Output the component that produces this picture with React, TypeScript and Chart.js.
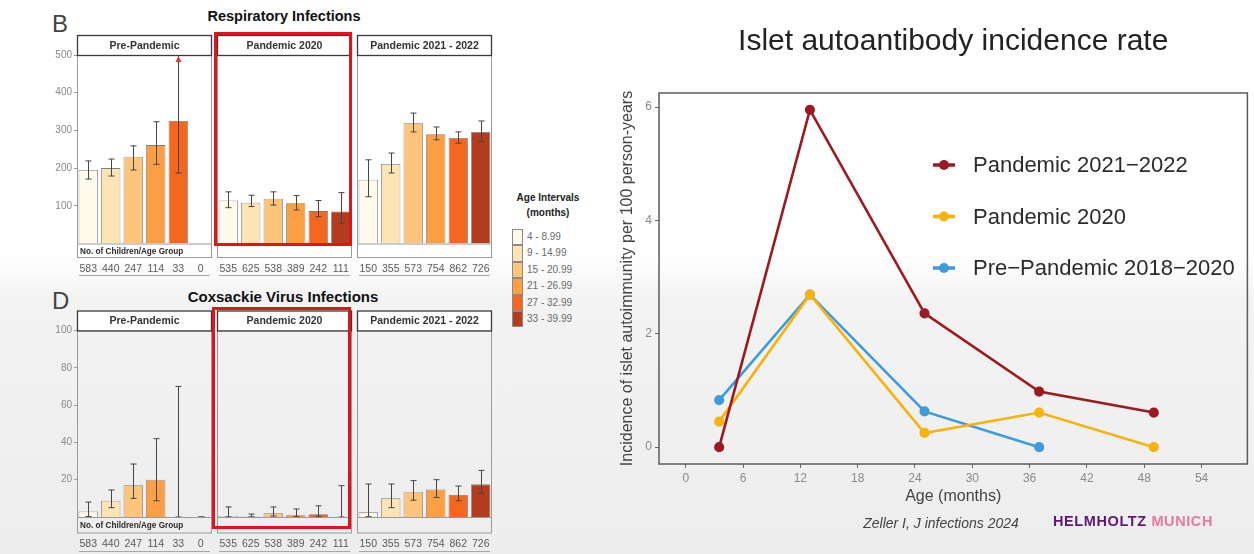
import React, { useEffect, useRef } from "react";
import { Chart, registerables } from "chart.js";

Chart.register(...registerables);

const FONT = '"Liberation Sans", Arial, Helvetica, sans-serif';

// ---------- Left figure: infections by age interval ----------
const AGE_INTERVALS = ["4 - 8.99", "9 - 14.99", "15 - 20.99", "21 - 26.99", "27 - 32.99", "33 - 39.99"];
const AGE_COLORS = ["#fffaec", "#fde4b5", "#fdc47c", "#fb9f45", "#f3671f", "#b43c1e"];
const PERIODS = ["Pre-Pandemic", "Pandemic 2020", "Pandemic 2021 - 2022"];
const CHILDREN_PRE = ["583", "440", "247", "114", "33", "0"];
const CHILDREN_2020 = ["535", "625", "538", "389", "242", "111"];
const CHILDREN_2122 = ["150", "355", "573", "754", "862", "726"];

const RESP_TICKS = [100, 200, 300, 400, 500];
const RESP_PRE = [195, 200, 230, 261, 325, 0];
const RESP_PRE_LOW = [171, 179, 195, 210, 187, null];
const RESP_PRE_HIGH = [219, 224, 259, 323, 560, null];
const RESP_2020 = [114, 108, 119, 107, 86, 85];
const RESP_2020_LOW = [95, 98, 102, 89, 71, 54];
const RESP_2020_HIGH = [137, 128, 137, 127, 114, 135];
const RESP_2122 = [169, 211, 319, 290, 280, 296];
const RESP_2122_LOW = [124, 187, 296, 275, 266, 270];
const RESP_2122_HIGH = [222, 240, 346, 309, 296, 325];

const COX_TICKS = [20, 40, 60, 80, 100];
const COX_PRE = [3, 8.7, 17, 20, 0, 0];
const COX_PRE_LOW = [0.3, 5, 10, 8.7, 0, 0];
const COX_PRE_HIGH = [8, 14.5, 28.4, 42, 70, 0];
const COX_2020 = [0.5, 0.3, 2, 1, 1.5, 0];
const COX_2020_LOW = [0.1, 0.1, 0.5, 0.2, 0.3, 0];
const COX_2020_HIGH = [5.4, 1.6, 5.4, 4.3, 6, 16.8];
const COX_2122 = [2.5, 10, 13.6, 14.8, 11.8, 17.5];
const COX_2122_LOW = [0.2, 5, 9, 10.5, 8.7, 12.7];
const COX_2122_HIGH = [17.7, 17.7, 19.5, 20, 16.6, 25];

// ---------- Right figure: islet autoantibody incidence ----------
const CHART_TITLE = "Islet autoantibody incidence rate";
const X_TITLE = "Age (months)";
const Y_TITLE = "Incidence of islet autoimmunity per 100 person-years";
const AGE_MONTHS = [3.5, 13, 25, 37, 49];
const RATE_2122 = [0, 5.95, 2.36, 0.98, 0.61];
const RATE_2020 = [0.45, 2.69, 0.25, 0.61, 0];
const RATE_PRE = [0.83, 2.69, 0.63, 0];
const SERIES_NAMES = ["Pandemic 2021\u22122022", "Pandemic 2020", "Pre\u2212Pandemic 2018\u22122020"];
const SERIES_COLORS = ["#9c1a22", "#f7b30c", "#3f9bdb"];
const X_TICKS = [0, 6, 12, 18, 24, 30, 36, 42, 48, 54];
const Y_TICKS = [0, 2, 4, 6];

// layout constants for the facet rows
const PANEL_W = 135;
const PANEL_LEFTS = [77, 217, 357];
const Y_AXIS_W = 28;
const ROW_TOP = { canvasTop: 33, canvasBottom: 280, panelTop: 55, zeroY: 243.5, rowH: 14, countsPad: 19, underline: 31.5, max: 500 };
const ROW_BOTTOM = { canvasTop: 309, canvasBottom: 554, panelTop: 330.5, zeroY: 517, rowH: 16, countsPad: 20.5, underline: 34, max: 100 };

type Row = typeof ROW_TOP;

type FacetProps = {
  row: Row;
  col: number;
  title: string;
  values: number[];
  low: (number | null)[];
  high: (number | null)[];
  counts: string[];
  ticks: number[];
  note: boolean;
  white: boolean;
};

function Facet(p: FacetProps) {
  const ref = useRef<HTMLCanvasElement | null>(null);
  const showY = p.col === 0;
  const panelLeft = PANEL_LEFTS[p.col];
  const left = panelLeft - (showY ? Y_AXIS_W : 1);
  const width = panelLeft - left + PANEL_W + 1;
  const top = p.row.canvasTop;
  const height = p.row.canvasBottom - p.row.canvasTop;

  useEffect(() => {
    const row = p.row;
    const decor = {
      id: "facetDecor",
      beforeDatasetsDraw(chart: any) {
        const { ctx, chartArea: a } = chart;
        ctx.save();
        if (p.white) {
          ctx.fillStyle = "#ffffff";
          ctx.fillRect(a.left, a.top, a.right - a.left, a.bottom - a.top + row.rowH);
        }
        ctx.restore();
      },
      afterDatasetsDraw(chart: any) {
        const { ctx, chartArea: a } = chart;
        const ys = chart.scales.y;
        const meta = chart.getDatasetMeta(0);
        ctx.save();
        ctx.strokeStyle = "#454545";
        ctx.lineWidth = 1;
        meta.data.forEach((bar: any, i: number) => {
          const lo = p.low[i];
          const hi = p.high[i];
          if (lo == null || hi == null) return;
          const x = Math.round(bar.x) + 0.5;
          const yLo = ys.getPixelForValue(lo);
          const yHiRaw = ys.getPixelForValue(hi);
          const clipped = yHiRaw < a.top;
          const yHi = clipped ? a.top : yHiRaw;
          ctx.beginPath();
          ctx.moveTo(x, yLo);
          ctx.lineTo(x, yHi);
          ctx.moveTo(x - 3, yLo);
          ctx.lineTo(x + 3, yLo);
          if (!clipped) {
            ctx.moveTo(x - 3, yHi);
            ctx.lineTo(x + 3, yHi);
          }
          ctx.stroke();
          if (clipped) {
            ctx.fillStyle = "#e0393a";
            ctx.beginPath();
            ctx.moveTo(x, a.top + 1);
            ctx.lineTo(x - 3, a.top + 7);
            ctx.lineTo(x + 3, a.top + 7);
            ctx.closePath();
            ctx.fill();
          }
        });
        ctx.restore();
      },
      afterDraw(chart: any) {
        const { ctx, chartArea: a } = chart;
        const w = a.right - a.left;
        ctx.save();
        // panel border including the children-count row
        ctx.strokeStyle = "#9a9a9a";
        ctx.lineWidth = 1;
        ctx.strokeRect(a.left + 0.5, a.top, w - 1, a.bottom - a.top + row.rowH);
        ctx.beginPath();
        ctx.moveTo(a.left, a.bottom + 0.5);
        ctx.lineTo(a.right, a.bottom + 0.5);
        ctx.stroke();
        // strip header
        const sh = 20;
        ctx.fillStyle = "#ffffff";
        ctx.fillRect(a.left, a.top - sh, w, sh);
        ctx.strokeStyle = "#3a3a3a";
        ctx.lineWidth = 1.3;
        ctx.strokeRect(a.left + 0.5, a.top - sh + 0.5, w - 1, sh);
        ctx.fillStyle = "#333333";
        ctx.font = `bold 10.5px ${FONT}`;
        ctx.textAlign = "center";
        ctx.textBaseline = "middle";
        ctx.fillText(p.title, (a.left + a.right) / 2, a.top - sh / 2 + 1);
        // row note
        if (p.note) {
          ctx.font = `bold 8.2px ${FONT}`;
          ctx.textAlign = "left";
          ctx.fillStyle = "#2a2a2a";
          ctx.fillText("No. of Children/Age Group", a.left + 3, a.bottom + row.rowH / 2 + 1);
        }
        // underline below counts
        ctx.strokeStyle = "#a8a8a8";
        ctx.lineWidth = 1;
        ctx.beginPath();
        ctx.moveTo(a.left + 2, a.bottom + row.underline + 0.5);
        ctx.lineTo(a.right - 2, a.bottom + row.underline + 0.5);
        ctx.stroke();
        ctx.restore();
      },
    };

    const chart = new Chart(ref.current as HTMLCanvasElement, {
      type: "bar",
      data: {
        labels: AGE_INTERVALS,
        datasets: [
          {
            data: p.values,
            backgroundColor: AGE_COLORS,
            borderColor: "#7c7c7c",
            borderWidth: 0.8,
            barPercentage: 0.86,
            categoryPercentage: 1,
          },
        ],
      },
      options: {
        animation: false,
        responsive: false,
        events: [],
        layout: { padding: { left: showY ? 0 : 1, right: 1, top: row.panelTop - row.canvasTop, bottom: 0 } },
        plugins: { legend: { display: false }, tooltip: { enabled: false }, title: { display: false } },
        scales: {
          x: {
            type: "category",
            offset: true,
            grid: {
              display: true,
              drawOnChartArea: false,
              drawTicks: true,
              tickLength: row.countsPad,
              color: "rgba(0,0,0,0)",
            },
            border: { display: false },
            ticks: {
              autoSkip: false,
              maxRotation: 0,
              padding: 0,
              color: "#5a5a5a",
              font: { family: FONT, size: 10.5 },
              callback: (_v: any, i: number) => p.counts[i],
            },
            afterFit: (s: any) => {
              s.height = row.canvasBottom - row.zeroY;
              s.paddingLeft = 0;
              s.paddingRight = 0;
            },
          },
          y: {
            display: showY,
            min: 0,
            max: row.max,
            afterBuildTicks: (s: any) => {
              s.ticks = p.ticks.map((v) => ({ value: v }));
            },
            afterFit: (s: any) => {
              if (showY) s.width = Y_AXIS_W;
            },
            grid: { display: true, drawOnChartArea: false, drawTicks: true, tickLength: 3, color: "#9a9a9a" },
            border: { display: false },
            ticks: { color: "#8a8a8a", padding: 2, font: { family: FONT, size: 10 } },
          },
        },
      },
      plugins: [decor],
    } as any);
    return () => chart.destroy();
  }, []);

  return (
    <canvas
      ref={ref}
      width={width}
      height={height}
      style={{ position: "absolute", left, top, width, height }}
    />
  );
}

function IncidenceChart() {
  const ref = useRef<HTMLCanvasElement | null>(null);
  useEffect(() => {
    const boxPlugin = {
      id: "panelBox",
      beforeDatasetsDraw(chart: any) {
        const { ctx, chartArea: a } = chart;
        ctx.save();
        ctx.strokeStyle = "#5c5c5c";
        ctx.lineWidth = 1.5;
        ctx.strokeRect(a.left, a.top, a.right - a.left, a.bottom - a.top);
        ctx.restore();
      },
    };
    const legendPlugin = {
      id: "insideLegend",
      afterDraw(chart: any) {
        const { ctx } = chart;
        ctx.save();
        chart.data.datasets.forEach((ds: any, i: number) => {
          const y = 165 + i * 51.5;
          ctx.strokeStyle = ds.borderColor;
          ctx.fillStyle = ds.borderColor;
          ctx.lineWidth = 3.5;
          ctx.beginPath();
          ctx.moveTo(333, y);
          ctx.lineTo(355, y);
          ctx.stroke();
          ctx.beginPath();
          ctx.arc(344, y, 5, 0, Math.PI * 2);
          ctx.fill();
          ctx.fillStyle = "#2b2b2b";
          ctx.font = `22px ${FONT}`;
          ctx.textAlign = "left";
          ctx.textBaseline = "middle";
          ctx.fillText(ds.label, 373, y + 1);
        });
        ctx.restore();
      },
    };
    const series = [RATE_2122, RATE_2020, RATE_PRE];
    const chart = new Chart(ref.current as HTMLCanvasElement, {
      type: "line",
      data: {
        datasets: series.map((vals, k) => ({
          label: SERIES_NAMES[k],
          data: vals.map((v, i) => ({ x: AGE_MONTHS[i], y: v })),
          borderColor: SERIES_COLORS[k],
          backgroundColor: SERIES_COLORS[k],
          pointBackgroundColor: SERIES_COLORS[k],
          pointBorderColor: SERIES_COLORS[k],
          pointRadius: 3.8,
          borderWidth: 2.6,
          tension: 0,
        })),
      },
      options: {
        animation: false,
        responsive: false,
        events: [],
        layout: { padding: { left: 0, right: 2, top: 0, bottom: 48 } },
        plugins: {
          legend: { display: false },
          tooltip: { enabled: false },
          title: {
            display: true,
            text: CHART_TITLE,
            fullSize: false,
            color: "#222222",
            font: { family: FONT, size: 30, weight: "normal" },
            padding: { top: 24, bottom: 33 },
          },
        },
        scales: {
          x: {
            type: "linear",
            min: -2.8,
            max: 58.8,
            afterBuildTicks: (s: any) => {
              s.ticks = X_TICKS.map((v) => ({ value: v }));
            },
            afterFit: (s: any) => {
              s.height = 42;
            },
            grid: { display: true, drawOnChartArea: false, drawTicks: true, tickLength: 4, color: "#666666" },
            border: { display: false },
            ticks: { color: "#8a8a8a", padding: 3, font: { family: FONT, size: 12 } },
            title: {
              display: true,
              text: X_TITLE,
              color: "#444444",
              font: { family: FONT, size: 16 },
              padding: { top: 0, bottom: 0 },
            },
          },
          y: {
            type: "linear",
            min: -0.2975,
            max: 6.2475,
            afterBuildTicks: (s: any) => {
              s.ticks = Y_TICKS.map((v) => ({ value: v }));
            },
            afterFit: (s: any) => {
              s.width = 59;
            },
            grid: { display: true, drawOnChartArea: false, drawTicks: true, tickLength: 4, color: "#666666" },
            border: { display: false },
            ticks: { color: "#8a8a8a", padding: 3, font: { family: FONT, size: 12 } },
            title: {
              display: true,
              text: Y_TITLE,
              color: "#444444",
              font: { family: FONT, size: 16 },
              padding: { top: 18, bottom: 0 },
            },
          },
        },
      },
      plugins: [boxPlugin, legendPlugin],
    } as any);
    return () => chart.destroy();
  }, []);
  return (
    <canvas
      ref={ref}
      width={654}
      height={554}
      style={{ position: "absolute", left: 600, top: 0, width: 654, height: 554 }}
    />
  );
}

function Txt(props: {
  x: number;
  y: number;
  size: number;
  color?: string;
  weight?: string;
  italic?: boolean;
  align?: "left" | "center" | "right";
  children: React.ReactNode;
}) {
  const tx = props.align === "center" ? "-50%" : props.align === "right" ? "-100%" : "0";
  return (
    <div
      style={{
        position: "absolute",
        left: props.x,
        top: props.y,
        transform: `translate(${tx}, -50%)`,
        fontSize: props.size,
        fontWeight: props.weight || "normal",
        fontStyle: props.italic ? "italic" : "normal",
        color: props.color || "#222",
        whiteSpace: "nowrap",
        lineHeight: 1,
      }}
    >
      {props.children}
    </div>
  );
}

function RedBox(props: { left: number; top: number; right: number; bottom: number }) {
  return (
    <div
      style={{
        position: "absolute",
        left: props.left,
        top: props.top,
        width: props.right - props.left,
        height: props.bottom - props.top,
        border: "3.5px solid #e0141b",
        boxSizing: "border-box",
      }}
    />
  );
}

export default function App() {
  const respRows = [
    { values: RESP_PRE, low: RESP_PRE_LOW, high: RESP_PRE_HIGH, counts: CHILDREN_PRE },
    { values: RESP_2020, low: RESP_2020_LOW, high: RESP_2020_HIGH, counts: CHILDREN_2020 },
    { values: RESP_2122, low: RESP_2122_LOW, high: RESP_2122_HIGH, counts: CHILDREN_2122 },
  ];
  const coxRows = [
    { values: COX_PRE, low: COX_PRE_LOW, high: COX_PRE_HIGH, counts: CHILDREN_PRE },
    { values: COX_2020, low: COX_2020_LOW, high: COX_2020_HIGH, counts: CHILDREN_2020 },
    { values: COX_2122, low: COX_2122_LOW, high: COX_2122_HIGH, counts: CHILDREN_2122 },
  ];
  return (
    <div
      style={{
        position: "relative",
        width: 1254,
        height: 554,
        overflow: "hidden",
        fontFamily: FONT,
        background: "linear-gradient(to bottom, #ffffff 0px, #ffffff 255px, #f3f3f3 300px, #ededed 554px)",
      }}
    >
      <style>{"body{margin:0;}"}</style>

      <Txt x={52} y={24} size={24} color="#444">B</Txt>
      <Txt x={284} y={16} size={14.5} weight="bold" color="#111" align="center">Respiratory Infections</Txt>
      <Txt x={52} y={301} size={24} color="#444">D</Txt>
      <Txt x={283} y={296} size={15} weight="bold" color="#111" align="center">Coxsackie Virus Infections</Txt>

      {respRows.map((r, i) => (
        <Facet
          key={"r" + i}
          row={ROW_TOP}
          col={i}
          title={PERIODS[i]}
          values={r.values}
          low={r.low}
          high={r.high}
          counts={r.counts}
          ticks={RESP_TICKS}
          note={i === 0}
          white={true}
        />
      ))}
      {coxRows.map((r, i) => (
        <Facet
          key={"c" + i}
          row={ROW_BOTTOM}
          col={i}
          title={PERIODS[i]}
          values={r.values}
          low={r.low}
          high={r.high}
          counts={r.counts}
          ticks={COX_TICKS}
          note={i === 0}
          white={false}
        />
      ))}

      <RedBox left={214} top={32} right={352} bottom={246} />
      <RedBox left={212} top={307} right={351} bottom={529} />

      {/* age interval legend */}
      <Txt x={548} y={198} size={10} weight="bold" color="#222" align="center">Age Intervals</Txt>
      <Txt x={548} y={213} size={10} weight="bold" color="#222" align="center">(months)</Txt>
      {AGE_INTERVALS.map((lab, i) => (
        <React.Fragment key={lab}>
          <div
            style={{
              position: "absolute",
              left: 512,
              top: 229 + i * 16.4,
              width: 11,
              height: 16.4,
              background: AGE_COLORS[i],
              boxSizing: "border-box",
              border: "0.8px solid #8a8a8a",
            }}
          />
          <Txt x={527} y={237 + i * 16.4} size={10} color="#6a6a6a">{lab}</Txt>
        </React.Fragment>
      ))}

      <IncidenceChart />

      <Txt x={941} y={523} size={14} italic={true} color="#444" align="center">Zeller I, J infections 2024</Txt>
      <div
        style={{
          position: "absolute",
          left: 1053,
          top: 521,
          transform: "translateY(-50%)",
          fontSize: 14.5,
          fontWeight: "bold",
          whiteSpace: "nowrap",
          lineHeight: 1,
          letterSpacing: 0.6,
        }}
      >
        <span style={{ color: "#5e1a72" }}>HELMHOLTZ</span>{" "}
        <span style={{ color: "#e57aa0" }}>MUNICH</span>
      </div>
    </div>
  );
}
